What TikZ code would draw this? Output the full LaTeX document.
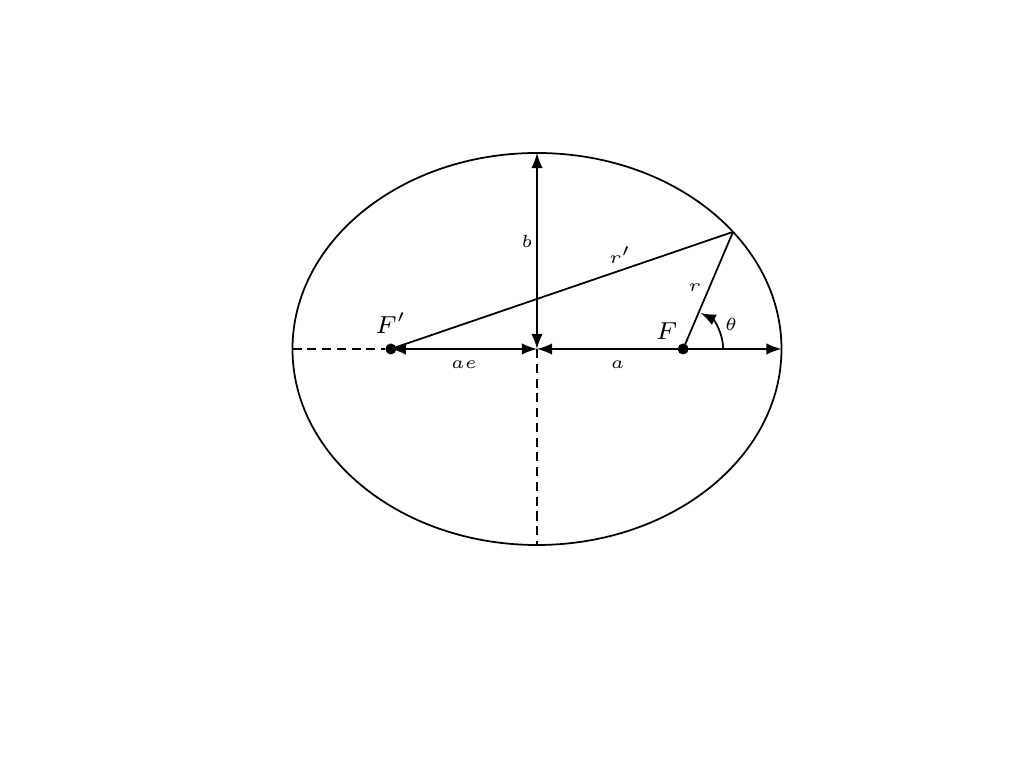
\documentclass[tikz,border=0pt]{standalone}
\usepackage{tikz}
\usetikzlibrary{arrows,calc,positioning}
\usepackage{amsmath}
\begin{document}
\begin{tikzpicture}[>=latex,
  bahn/.style={black,line width=0.5pt},
  hilf/.style={black,line width=0.5pt,dashed,dash pattern=on 2.6pt off 1.6pt},
  pfeil/.style={black,line width=0.5pt,<->},
  lab/.style={font=\fontsize{5.5}{6}\selectfont,inner sep=1pt},
  brenn/.style={circle,fill=black,inner sep=0pt,minimum size=1.1mm}]
%Ellipse mit a=2.445 und b=1.96 --> c=sqrt(a^2-b^2)=a*e
  \pgfmathsetmacro{\a}{2.445}
  \pgfmathsetmacro{\b}{1.96}
  \pgfmathsetmacro{\c}{sqrt(\a*\a-\b*\b)}
%Punkt auf der Bahn beim Parameter t
  \pgfmathsetmacro{\t}{36.7}
\useasboundingbox (-5.37,-4.19) rectangle (4.87,3.49);
\draw[bahn] (0,0) ellipse ({\a} and {\b});
\coordinate (M) at (0,0);
\coordinate (L) at (-\a,0);
\coordinate (R) at (\a,0);
\coordinate (T) at (0,\b);
\coordinate (U) at (0,-\b);
\coordinate (P) at ({\a*cos(\t)},{\b*sin(\t)});
\node[brenn] (Fs) at (-\c,0) {};
\node[brenn] (F) at (\c,0) {};
\node[lab,font=\fontsize{7}{8}\selectfont,above=0.5mm of Fs] {$F'$};
\node[lab,font=\fontsize{7}{8}\selectfont,above left=0.1mm and -0.3mm of F] {$F$};
\draw[hilf] (L) -- (Fs);
\draw[hilf] (M) -- (U);
\draw[pfeil] (M) --node[lab,pos=0.55,left] {$b$} (T);
\draw[pfeil] (Fs.center) --node[lab,below=0.8mm] {$ae$} (M);
\draw[pfeil] (M) --node[lab,pos=0.33,below=0.8mm] {$a$} (R);
\draw[bahn] (Fs.center) --node[lab,pos=0.67,above=0.3mm] {$r'$} (P);
\draw[bahn] (F.center) --node[lab,pos=0.52,left=0.4mm] {$r$} (P);
\draw[bahn,->] ($(F)+(0.4,0)$) arc (0:64:0.4) node[lab,pos=0.6,right=0.6mm] {$\theta$};
\end{tikzpicture}
\end{document}
